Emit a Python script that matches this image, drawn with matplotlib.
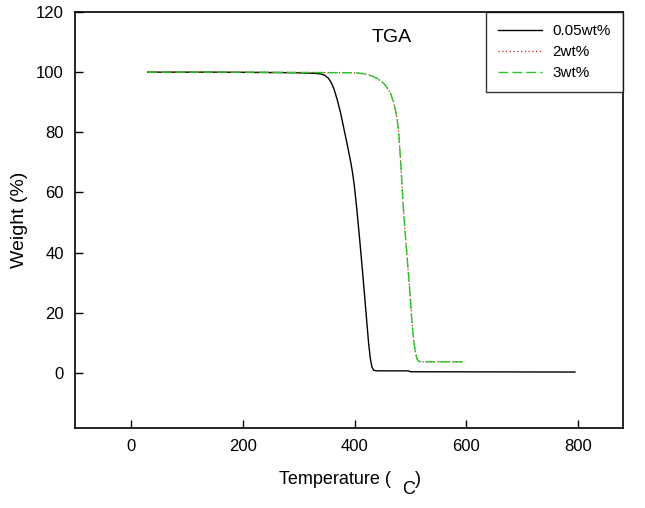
import matplotlib
matplotlib.use("Agg")
import matplotlib.pyplot as plt

plt.rcParams['font.family'] = ['Liberation Sans', 'DejaVu Sans']

# TGA curves (temperature in C, weight in %)
t_005 = [30, 150, 300, 330, 340, 347, 353, 358, 363, 369, 375, 380, 385, 390, 393,
         396, 399, 402, 405, 410, 415, 420, 425, 428, 431, 434, 440, 496, 500, 794]
w_005 = [100, 100, 99.8, 99.6, 99.4, 98.9, 98.0, 96.6, 94.5, 90.8, 86.4, 82.0, 77.6,
         73.0, 70.2, 67.0, 63.0, 58.0, 52.5, 42.5, 32.0, 21.0, 10.0, 5.0, 2.0, 0.9,
         0.7, 0.7, 0.4, 0.3]

t_2 = [30, 200, 400, 416, 425, 434, 443, 452, 458, 464, 469, 473, 476, 479, 481, 483,
       485, 487.5, 490, 492, 495, 499, 502, 505, 508, 511, 514, 520, 596]
w_2 = [100, 100, 99.8, 99.5, 99.1, 98.5, 97.6, 96.3, 94.9, 93.0, 90.5, 87.5, 84.5,
       79.7, 74.0, 68.5, 61.5, 54.2, 47.5, 43.0, 36.0, 26.6, 18.5, 12.0, 7.7, 5.0,
       3.9, 3.7, 3.7]

t_3 = [30, 200, 400, 416, 425, 434, 443, 452, 458, 464, 469, 473, 476, 479, 481, 483,
       485, 487.5, 490, 492, 495, 499, 502, 505, 508, 511, 514, 520, 596]
w_3 = [100, 100, 99.8, 99.5, 99.1, 98.5, 97.6, 96.3, 94.9, 93.0, 90.5, 87.5, 84.5,
       79.7, 74.0, 68.5, 61.5, 54.2, 47.5, 43.0, 36.0, 26.6, 18.5, 12.0, 7.7, 5.0,
       3.9, 3.7, 3.7]

fig = plt.figure(figsize=(6.45, 5.08), dpi=100)
ax = fig.add_axes([75 / 645, 80 / 508, 548 / 645, 416 / 508])

ax.plot(t_005, w_005, color='black', lw=1.0, label='0.05wt%')
ax.plot(t_2, w_2, color='#cc2222', lw=0.9, ls=(0, (1, 2)), label='2wt%')
ax.plot(t_3, w_3, color='#22cc22', lw=1.0, ls=(0, (7, 3)), label='3wt%')

ax.set_xlim(-100, 880)
ax.set_ylim(-18.3, 120)
ax.set_xticks([0, 200, 400, 600, 800])
ax.set_yticks([0, 20, 40, 60, 80, 100, 120])
ax.tick_params(direction='in', length=6, width=1, labelsize=12, pad=8,
               top=False, right=False)
for s in ax.spines.values():
    s.set_linewidth(1.2)

# x label in pieces: the C sits low, as in the original
fig.text(391 / 645, 1 - 479 / 508, 'Temperature (', fontsize=13, ha='right', va='center')
fig.text(402 / 645, 1 - 490 / 508, 'C', fontsize=13, ha='left', va='center')
fig.text(415 / 645, 1 - 479 / 508, ')', fontsize=13, ha='left', va='center')

ax.set_ylabel('Weight (%)', fontsize=14, labelpad=5.5)
ax.text(467, 111.4, 'TGA', fontsize=14, ha='center', va='center')

leg = ax.legend(loc='upper right', bbox_to_anchor=(1.0, 1.0), fontsize=11,
                frameon=True, fancybox=False, edgecolor='black',
                borderaxespad=0, handlelength=2.9, handletextpad=0.65,
                labelspacing=0.45, borderpad=0.8)
leg.get_frame().set_linewidth(1.0)

fig.savefig('out.png', dpi=100)
